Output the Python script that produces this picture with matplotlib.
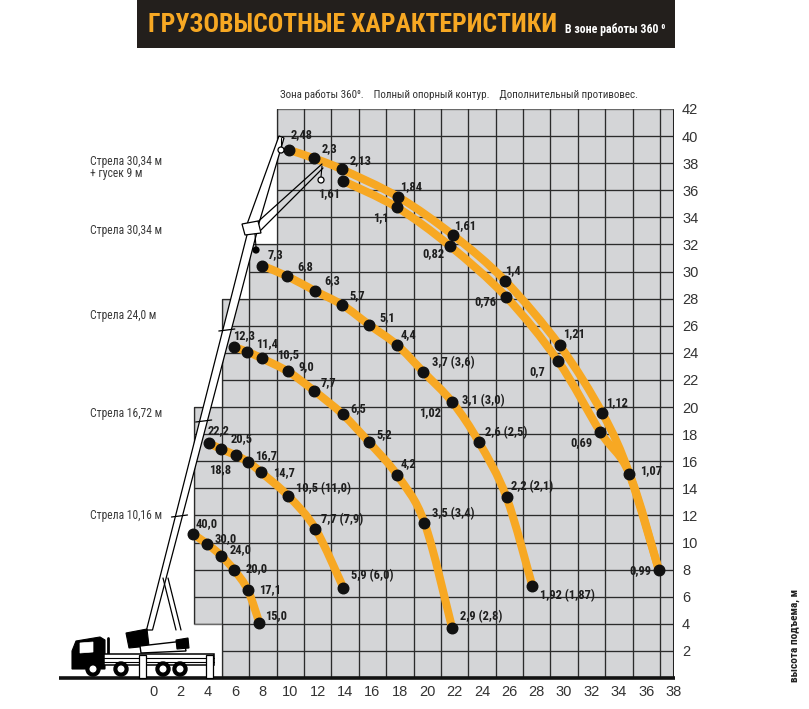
import numpy as np
import matplotlib
matplotlib.use('Agg')
import matplotlib.pyplot as plt
from matplotlib.path import Path
from matplotlib.patches import PathPatch, Polygon, Rectangle, Circle
from matplotlib.lines import Line2D
from matplotlib.transforms import Affine2D
from matplotlib import font_manager as fm

# ---------------- data ----------------
# boom 30.34 m + 9 m jib (upper line)
jib_r = [9.93, 11.76, 13.78, 17.90, 21.91, 25.69, 29.67, 32.80, 34.77, 36.92]
jib_h = [38.97, 38.35, 37.54, 35.50, 32.67, 29.32, 24.55, 19.53, 15.06, 7.95]
jib_q = ['2,48', '2,3', '2,13', '1,84', '1,61', '1,4', '1,21', '1,12', '1,07', '0,99']
# boom 30.34 m + 9 m jib (lower line)
jib2_r = [13.88, 17.78, 21.67, 25.76, 29.54, 32.65]
jib2_h = [36.68, 34.74, 31.88, 28.14, 23.42, 18.15]
jib2_q = ['1,61', '1,1', '0,82', '0,76', '0,7', '0,69']
# boom 30.34 m
b30_r = [7.96, 9.79, 11.79, 13.81, 15.76, 17.80, 19.70, 21.84, 23.77, 25.79, 27.68]
b30_h = [30.43, 29.65, 28.58, 27.53, 26.07, 24.58, 22.61, 20.35, 17.42, 13.34, 6.79]
b30_q = ['7,3', '6,8', '6,3', '5,7', '5,1', '4,4', '3,7 (3,6)', '3,1 (3,0)',
         '2,6 (2,5)', '2,2 (2,1)', '1,92 (1,87)']
# boom 24.0 m
b24_r = [5.89, 6.87, 7.92, 9.82, 11.74, 13.83, 15.76, 17.80, 19.80, 21.82]
b24_h = [24.43, 24.08, 23.59, 22.63, 21.20, 19.46, 17.39, 14.98, 11.46, 3.69]
b24_q = ['12,3', '11,4', '10,5', '9,0', '7,7', '6,5', '5,2', '4,2', '3,5 (3,4)', '2,9 (2,8)']
# boom 16.72 m
b16_r = [4.05, 4.95, 6.02, 6.94, 7.87, 9.86, 11.83, 13.88]
b16_h = [17.34, 16.90, 16.44, 15.94, 15.18, 13.43, 11.02, 6.66]
b16_q = ['22,2', '20,5', '18,8', '16,7', '14,7', '10,5 (11,0)', '7,7 (7,9)', '5,9 (6,0)']
# boom 10.16 m
b10_r = [2.90, 3.92, 4.95, 5.92, 6.90, 7.74]
b10_h = [10.61, 9.91, 9.03, 7.95, 6.49, 4.08]
b10_q = ['40,0', '30,0', '24,0', '20,0', '17,1', '15,0']

extra_q = ['1,02']
x_ticks = list(range(0, 39, 2))
y_ticks = list(range(2, 43, 2))
boom_names = ['Стрела 30,34 м\n+ гусек 9 м', 'Стрела 30,34 м', 'Стрела 24,0 м',
              'Стрела 16,72 м', 'Стрела 10,16 м']
title = 'ГРУЗОВЫСОТНЫЕ ХАРАКТЕРИСТИКИ'
subtitle = 'В зоне работы 360 ⁰'
note = 'Зона работы 360⁰.    Полный опорный контур.    Дополнительный противовес.'
ylabel = 'высота подъема, м'

# ---------------- label offsets (pixels, x right / y down) ----------------
jib_off = [(12, -15), (15, -10), (19, -9), (13, -10), (12, -10), (8, -10), (14, -12),
           (15, -11), (22, -3), (-19, 0)]
jib2_off = [(-14, 13), (-16, 10), (-17, 7), (-21, 5), (-21, 11), (-19, 10)]
b30_off = [(13, -11), (18, -10), (18, -10), (15, -9), (18, -7), (11, -10), (30, -9),
           (31, -2), (27, -9), (26, -11), (35, 10)]
b24_off = [(10, -11), (20, -8), (26, -4), (19, -5), (14, -8), (16, -6), (15, -8),
           (11, -11), (29, -9), (29, -11)]
b16_off = [(10, -12), (20, -10), (-16, 14), (18, -6), (23, 0), (35, -8), (27, -9), (29, -12)]
b10_off = [(14, -11), (19, -5), (19, -6), (22, -2), (22, 0), (17, -7)]

# ---------------- fonts ----------------
avail = {f.name for f in fm.fontManager.ttflist}
def pick(*cands):
    for c in cands:
        if c in avail:
            return c
    return None
NARROW = pick('Liberation Sans Narrow', 'DejaVu Sans Condensed', 'Roboto Condensed',
              'Open Sans Condensed', 'Noto Sans Condensed')
HAVE_NARROW = NARROW is not None
if NARROW is None:
    NARROW = 'DejaVu Sans'
NFAM = [NARROW, 'DejaVu Sans']
RFAM = ['Liberation Sans', 'DejaVu Sans']
plt.rcParams['font.family'] = RFAM

ORANGE = '#f7a823'
GRAY = '#d4d5d7'

W, H = 809, 709
fig = plt.figure(figsize=(W / 100, H / 100), dpi=100)
fig.patch.set_facecolor('white')
PX = Affine2D().scale(1 / 100, -1 / 100).translate(0, H / 100) + fig.dpi_scale_trans

# axes: x -7..38 -> px 57.5..673.7 ; y 0..42 -> px 678..109
ax = fig.add_axes([57.5 / W, (H - 678) / H, (673.7 - 57.5) / W, (678 - 109) / H])
ax.set_xlim(-7, 38)
ax.set_ylim(0, 42)
ax.patch.set_alpha(0)
for s in ax.spines.values():
    s.set_visible(False)

# stepped working region
region = [(5, 0), (38, 0), (38, 42), (9, 42), (9, 32), (7, 32), (7, 28), (5, 28),
          (5, 20), (3, 20), (3, 4), (5, 4)]
poly = Polygon(region, closed=True, fc=GRAY, ec='#6a6a6a', lw=1.0, zorder=1)
ax.add_patch(poly)
for gx in range(3, 38, 2):
    ln = ax.plot([gx, gx], [0, 42], color='#2b2b2b', lw=0.95, zorder=2)[0]
    ln.set_clip_path(poly)
for gy in range(2, 42, 2):
    ln = ax.plot([-7, 38], [gy, gy], color='#2b2b2b', lw=0.95, zorder=2)[0]
    ln.set_clip_path(poly)
ax.plot([38, 38], [0, 42], color='#222222', lw=2.2, zorder=2, solid_capstyle='butt')
ax.plot([-6.9, 38.08], [0, 0], color='#111111', lw=2.6, zorder=2, clip_on=False,
        solid_capstyle='butt')

# ticks
ax.set_xticks(x_ticks)
ax.set_yticks(y_ticks)
ax.yaxis.tick_right()
ax.tick_params(axis='both', length=0, labelsize=10.5, labelcolor='#333333')
ax.tick_params(axis='x', pad=5)
ax.tick_params(axis='y', pad=6)


def smooth(xs, ys):
    P = [np.array(p, float) for p in zip(xs, ys)]
    n = len(P)
    verts = [P[0]]
    codes = [Path.MOVETO]
    for i in range(n - 1):
        p0 = P[i - 1] if i > 0 else P[i]
        p1, p2 = P[i], P[i + 1]
        p3 = P[i + 2] if i + 2 < n else P[i + 1]
        verts += [p1 + (p2 - p0) / 6.0, p2 - (p3 - p1) / 6.0, p2]
        codes += [Path.CURVE4] * 3
    return Path(verts, codes)


LBL_SIZE = 9.0 if HAVE_NARROW else 7.2


def draw_curve(r, h, q, off, line_r=None, line_h=None):
    lr = r if line_r is None else line_r
    lh = h if line_h is None else line_h
    ax.add_patch(PathPatch(smooth(lr, lh), fc='none', ec=ORANGE, lw=5.8, zorder=3,
                           capstyle='butt'))
    ax.plot(r, h, 'o', ms=7.6, color='#111111', zorder=4)
    for x, y, t, (dx, dy) in zip(r, h, q, off):
        ax.annotate(t, (x, y), xytext=(dx * 0.72, -dy * 0.72), textcoords='offset points',
                    ha='center', va='center', fontsize=LBL_SIZE, fontweight='bold',
                    family=NFAM, fontstretch='condensed', color='#1e1e1e', zorder=5)


draw_curve(jib_r, jib_h, jib_q, jib_off)
draw_curve(jib2_r, jib2_h, jib2_q, jib2_off,
           line_r=jib2_r + jib_r[-2:], line_h=jib2_h + jib_h[-2:])
draw_curve(b30_r, b30_h, b30_q, b30_off)
draw_curve(b24_r, b24_h, b24_q, b24_off)
draw_curve(b16_r, b16_h, b16_q, b16_off)
draw_curve(b10_r, b10_h, b10_q, b10_off)
ax.annotate(extra_q[0], (b30_r[7], b30_h[7]), xytext=(-22 * 0.72, -10 * 0.72),
            textcoords='offset points', ha='center', va='center', fontsize=LBL_SIZE,
            fontweight='bold', family=NFAM, fontstretch='condensed', color='#1e1e1e', zorder=5)


# ---------------- crane illustration (decoration, pixel space) ----------------
def L(pts, lw=1.0, c='black', z=6):
    xs, ys = zip(*pts)
    ax.add_line(Line2D(xs, ys, transform=PX, color=c, lw=lw, zorder=z, clip_on=False,
                       solid_capstyle='round'))


def PG(pts, fc='white', ec='black', lw=0.9, z=6):
    ax.add_patch(Polygon(pts, closed=True, transform=PX, fc=fc, ec=ec, lw=lw, zorder=z,
                         clip_on=False))


# boom
PG([(146.5, 630), (152.5, 630), (257, 232), (248, 231)], lw=0.9)
for yy in (516, 421, 330):
    xl = 146.5 + (630 - yy) * (248 - 146.5) / (630 - 231)
    L([(xl - 4, yy + 1), (xl + 12, yy - 1)], lw=0.9)
# jib
PG([(246, 227), (279, 136), (284, 138), (257, 230)], lw=0.9)
L([(252, 227), (322, 164)], lw=0.9)
L([(258, 233), (323, 168)], lw=0.9)
PG([(242, 224), (258, 221), (261, 233), (245, 235)], lw=0.9)
L([(281, 138), (281, 147)], lw=0.8)
ax.add_patch(Circle((281, 150), 3, transform=PX, fc='white', ec='black', lw=0.9, zorder=6,
                    clip_on=False))
L([(322, 166), (321, 177)], lw=0.8)
ax.add_patch(Circle((321, 180), 3, transform=PX, fc='white', ec='black', lw=0.9, zorder=6,
                    clip_on=False))
L([(255, 234), (256, 247)], lw=0.8)
ax.add_patch(Circle((256, 250), 3, transform=PX, fc='black', ec='black', lw=0.9, zorder=6,
                    clip_on=False))
# luffing cylinder
L([(163, 578), (176, 630)], lw=0.9)
L([(168, 578), (181, 630)], lw=0.9)
# truck
PG([(72, 669), (72, 651), (76, 641), (100, 637), (105, 640), (105, 669)], fc='black', lw=0.8)
PG([(80, 643), (93, 642), (93, 652), (80, 653)], fc='white', ec='white', lw=0.5, z=7)
L([(108, 638), (108, 656)], lw=2.0)
PG([(104, 654), (214, 654), (214, 665), (104, 665)], fc='white', lw=1.1)
L([(104, 658), (214, 658)], lw=0.8)
L([(104, 662), (214, 662)], lw=0.8)
PG([(126, 633), (147, 629), (149, 646), (129, 648)], fc='black', lw=0.8)
PG([(140, 646), (184, 641), (186, 651), (141, 653)], fc='white', lw=1.0)
PG([(176, 640), (188, 638), (189, 648), (177, 649)], fc='black', lw=0.8)
for wx in (93, 121, 163, 180):
    ax.add_patch(Circle((wx, 669), 7, transform=PX, fc='black', ec='black', zorder=7,
                        clip_on=False))
    ax.add_patch(Circle((wx, 669), 2.8, transform=PX, fc='white', ec='white', zorder=8,
                        clip_on=False))
PG([(139, 655), (146, 655), (146, 678), (139, 678)], fc='white', lw=0.9)
PG([(206, 655), (213, 655), (213, 678), (206, 678)], fc='white', lw=0.9)

# ---------------- texts ----------------
fig.add_artist(Rectangle((137 / W, (H - 48) / H), 538 / W, 48 / H, transform=fig.transFigure,
                         fc='#231f1c', ec='none', zorder=0))
renderer = fig.canvas.get_renderer()


def fit(t, target):
    w = t.get_window_extent(renderer).width
    t.set_fontsize(t.get_fontsize() * target / w)


t_title = fig.text(148 / W, (H - 25) / H, title, color=ORANGE, fontsize=22,
                   fontweight='bold', family=NFAM, fontstretch='condensed',
                   ha='left', va='center')
fit(t_title, 407)
t_sub = fig.text(565 / W, (H - 30) / H, subtitle, color='white', fontsize=8,
                 fontweight='bold', family=NFAM, fontstretch='condensed', ha='left', va='center')
fit(t_sub, 100)
t_note = fig.text(280 / W, (H - 95) / H, note, color='#333333', fontsize=9,
                  family=NFAM, fontstretch='condensed', ha='left', va='center')
fit(t_note, 362)

name_y = [161, 230, 315, 414, 515]
for nm, yy in zip(boom_names, name_y):
    tt = fig.text(90 / W, (H - yy) / H, nm, color='#3a3a3a', fontsize=9, family=NFAM,
                  fontstretch='condensed', ha='left', va='top' if '\n' in nm else 'center',
                  linespacing=0.95)
    if '\n' in nm:
        tt.set_y((H - yy + 6) / H)
sample = fig.text(0, 0, boom_names[1], fontsize=9, family=NFAM, fontstretch='condensed')
scale = 72 / sample.get_window_extent(renderer).width
sample.remove()
for tt in fig.texts:
    if tt.get_text() in boom_names:
        tt.set_fontsize(9 * scale)

t_y = fig.text(795 / W, (H - 635) / H, ylabel, rotation=90, color='#222222', fontsize=8,
               fontweight='bold', family=NFAM, fontstretch='condensed', ha='center', va='center')
w_y = t_y.get_window_extent(renderer).height
t_y.set_fontsize(8 * 94 / w_y)

fig.savefig('out.png', dpi=100)
